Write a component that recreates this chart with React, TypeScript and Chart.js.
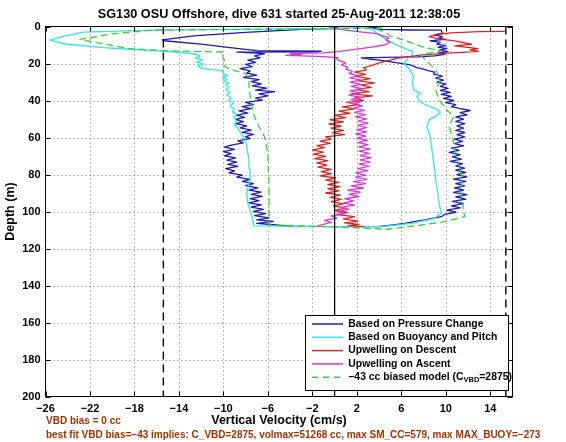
import React, { useEffect, useRef } from 'react';
import { Chart, registerables } from 'chart.js';

Chart.register(...registerables);

const FONT = '"Liberation Sans", Arial, Helvetica, sans-serif';

const titleText = 'SG130 OSU Offshore, dive 631 started 25-Aug-2011 12:38:05';
const xAxisTitle = 'Vertical Velocity (cm/s)';
const yAxisTitle = 'Depth (m)';
const footnotes = [
  'VBD bias = 0 cc',
  'best fit VBD bias=\u221243 implies: C_VBD=2875, volmax=51268 cc, max SM_CC=579, max MAX_BUOY=\u2212273',
];

const xTicks = [-26, -22, -18, -14, -10, -6, -2, 2, 6, 10, 14];
const yTicks = [0, 20, 40, 60, 80, 100, 120, 140, 160, 180, 200];
const xMin = -26;
const xMax = 16;
const yMin = 0;
const yMax = 200;

const seriesLabels = [
  'Based on Pressure Change',
  'Based on Buoyancy and Pitch',
  'Upwelling on Descent',
  'Upwelling on Ascent',
  '\u221243 cc biased model (C_VBD=2875)',
];
const modelLabelParts = ['\u221243 cc biased model (C', 'VBD', '=2875)'];

// reference verticals: dashed limits and zero line
const limitLines = [-15.4, 15.4];
const zeroLine = [0];

// Each profile: [velocity cm/s, depth m] in time order (descent then ascent)
const pressureProfile: [number, number][] = [
  [0.3, 0.3], [-0.3, 1.2], [-3.0, 1.6], [-5.1, 2.2], [-8.0, 3.2], [-12.7, 5.1], [-15.5, 7.2], [-15.3, 7.7],
  [-12.0, 9.5], [-9.4, 11.4], [-7.0, 13.0], [-5.0, 13.2], [-1.2, 13.3], [-1.6, 13.7], [-8.8, 13.8], [-7.5, 14.3],
  [-6.3, 14.7], [-7.2, 15.9], [-6.7, 17.0], [-7.8, 18.2], [-7.1, 19.4], [-8.0, 20.5], [-7.4, 21.7], [-8.5, 22.8],
  [-7.6, 24.0], [-7.9, 25.2], [-7.0, 26.3], [-8.2, 27.5], [-6.8, 28.7], [-7.5, 29.8], [-6.6, 31.0], [-7.4, 32.1],
  [-6.1, 33.3], [-7.1, 34.4], [-5.4, 35.2], [-6.8, 36.4], [-6.0, 37.5], [-7.1, 38.7], [-6.5, 39.8], [-8.0, 41.0],
  [-7.3, 42.1], [-8.3, 43.3], [-7.5, 44.4], [-8.6, 45.6], [-7.8, 46.8], [-8.8, 47.9], [-8.1, 49.1], [-8.9, 50.2],
  [-8.2, 51.4], [-8.9, 52.5], [-7.9, 53.7], [-8.5, 54.8], [-7.5, 56.0], [-8.3, 57.2], [-7.3, 58.3], [-8.0, 59.5],
  [-7.6, 60.6], [-8.7, 61.8], [-8.2, 62.9], [-9.3, 64.1], [-9.9, 65.2], [-9.0, 66.4], [-10.0, 67.6], [-9.3, 68.7],
  [-9.9, 69.9], [-8.9, 71.0], [-9.7, 72.2], [-8.8, 73.3], [-9.6, 74.5], [-8.7, 75.6], [-9.8, 76.8], [-9.0, 78.0],
  [-9.5, 79.1], [-8.3, 80.3], [-8.8, 81.4], [-7.6, 82.6], [-8.3, 83.7], [-7.3, 84.9], [-8.0, 86.0], [-6.9, 87.2],
  [-7.7, 88.4], [-6.6, 89.5], [-7.5, 90.7], [-6.5, 91.8], [-7.6, 93.0], [-6.8, 94.1], [-7.7, 95.3], [-6.6, 96.4],
  [-7.5, 97.6], [-6.4, 98.8], [-7.3, 99.9], [-6.2, 101.1], [-7.2, 102.2], [-5.9, 103.4], [-7.0, 104.5], [-5.5, 105.3],
  [-7.0, 106.4], [-5.2, 107.3], [-4.0, 108.0],
  [3.9, 108.2], [5.3, 107.2], [6.3, 106.4], [7.3, 105.4], [8.1, 104.6], [8.9, 103.6], [9.6, 102.8], [9.9, 101.6],
  [10.9, 100.4], [10.1, 99.2], [11.3, 98.0], [10.5, 96.9], [11.6, 95.7], [10.6, 94.5], [11.8, 93.3], [10.9, 92.1],
  [11.9, 90.9], [10.7, 89.7], [11.6, 88.5], [10.8, 87.3], [11.7, 86.1], [10.9, 84.9], [11.8, 83.7], [10.7, 82.5],
  [11.9, 81.3], [11.0, 80.1], [11.8, 78.9], [10.9, 77.7], [11.7, 76.5], [10.9, 75.3], [11.5, 74.1], [10.4, 72.9],
  [11.4, 71.7], [10.6, 70.5], [11.3, 69.3], [10.3, 68.1], [11.2, 66.9], [10.5, 65.7], [11.6, 64.5], [10.8, 63.3],
  [11.5, 62.1], [10.8, 60.9], [11.7, 59.7], [11.0, 58.5], [11.7, 57.3], [10.9, 56.1], [11.6, 54.9], [11.0, 53.7],
  [11.7, 52.5], [10.9, 51.3], [11.6, 50.1], [10.9, 48.9], [11.9, 47.7], [11.3, 46.5], [12.2, 45.4], [11.3, 44.4],
  [10.5, 43.3], [10.9, 42.2], [10.0, 41.1], [10.7, 40.0], [9.8, 38.9], [10.5, 37.8], [9.6, 36.7], [10.4, 35.6],
  [9.5, 34.5], [10.2, 33.4], [9.5, 32.3], [10.0, 31.2], [9.2, 30.1], [9.8, 29.0], [9.1, 27.9], [9.7, 26.8],
  [8.9, 25.7], [9.0, 24.6], [8.4, 23.8], [8.0, 23.0], [7.4, 22.2], [7.1, 21.4], [6.7, 20.6], [5.8, 19.8],
  [4.9, 19.0], [4.0, 18.2], [3.0, 17.5], [2.4, 17.0], [4.5, 16.7], [7.5, 16.4], [9.0, 15.9], [9.9, 15.1],
  [9.3, 14.4], [10.2, 13.6], [9.4, 12.8], [10.1, 12.0], [9.3, 11.2], [10.0, 10.3], [9.2, 9.5], [9.5, 8.6],
  [8.6, 7.8], [9.9, 6.9], [9.4, 6.2], [9.7, 5.5], [9.0, 4.6], [9.7, 3.9], [9.6, 2.0], [6.7, 1.9],
  [4.2, 1.6], [3.5, 1.0], [3.9, 0.6], [2.5, 0.4],
];

const buoyancyProfile: [number, number][] = [
  [3.0, 0.4], [0.0, 1.0], [-5.0, 1.3], [-12.0, 1.7], [-18.0, 2.2], [-22.6, 3.0], [-24.5, 5.5], [-25.6, 7.3],
  [-24.1, 9.6], [-20.8, 11.4], [-18.4, 12.3], [-15.0, 13.5], [-12.4, 15.0], [-12.1, 15.9], [-12.5, 17.0], [-11.9, 18.0],
  [-12.4, 19.2], [-11.8, 20.3], [-12.3, 21.4], [-12.0, 22.5], [-11.0, 23.3], [-10.1, 23.8], [-10.0, 25.5], [-9.6, 26.5],
  [-10.1, 27.5], [-9.7, 28.5], [-10.0, 29.5], [-9.5, 30.5], [-9.8, 31.5], [-9.5, 33.0], [-9.8, 34.2], [-9.4, 35.8],
  [-9.7, 37.0], [-9.3, 38.5], [-9.5, 40.0], [-9.1, 41.5], [-9.4, 43.0], [-9.0, 44.5], [-9.2, 46.0], [-8.8, 47.5],
  [-9.1, 49.0], [-8.8, 51.0], [-9.0, 53.0], [-8.7, 55.0], [-8.4, 57.8], [-8.0, 61.4], [-7.9, 65.0], [-7.8, 68.6],
  [-7.7, 72.0], [-7.7, 75.8], [-7.6, 78.0], [-7.6, 83.0], [-7.8, 87.0], [-7.9, 90.2], [-7.8, 95.6], [-7.5, 101.0],
  [-7.4, 103.0], [-7.3, 106.4], [-7.3, 107.8], [0.0, 108.2], [4.2, 108.2], [6.9, 106.4], [9.0, 103.7], [9.6, 101.0],
  [9.4, 95.6], [9.3, 90.2], [9.2, 86.6], [9.1, 83.0], [9.0, 77.6], [8.8, 68.6], [8.6, 59.6], [8.3, 54.1],
  [8.5, 50.5], [9.5, 46.9], [9.3, 45.1], [7.9, 41.5], [7.6, 40.0], [7.4, 37.9], [7.7, 36.0], [7.1, 34.3],
  [7.0, 30.7], [7.1, 27.1], [6.8, 23.5], [6.2, 19.9], [6.6, 17.2], [7.0, 15.5], [7.0, 13.5], [6.2, 11.5],
  [5.4, 9.5], [4.8, 7.5], [4.2, 5.2], [3.8, 3.7], [3.5, 2.0], [3.0, 0.8],
];

const descentUpwelling: [number, number][] = [
  [15.3, 2.6], [13.0, 2.8], [10.5, 3.4], [9.2, 4.2], [8.5, 5.5], [9.5, 6.8], [10.8, 7.8], [12.3, 9.6],
  [10.8, 10.5], [12.9, 12.0], [12.2, 12.7], [12.95, 13.5], [10.3, 14.4], [7.9, 15.3], [5.8, 17.0], [4.0, 19.7],
  [3.3, 21.2], [2.6, 22.4], [2.9, 23.5], [1.8, 24.7], [2.8, 25.9], [1.9, 27.0], [3.2, 28.2], [2.1, 29.4],
  [3.6, 30.5], [2.4, 31.7], [3.3, 32.9], [1.9, 34.0], [3.1, 35.2], [1.5, 36.4], [3.4, 37.5], [1.8, 38.7],
  [2.6, 39.9], [1.1, 41.0], [2.2, 42.2], [0.7, 43.4], [1.8, 44.5], [0.4, 45.7], [1.4, 46.9], [0.0, 48.0],
  [1.0, 49.2], [-0.4, 50.4], [0.8, 51.5], [-0.5, 52.7], [0.6, 53.9], [-0.3, 55.0], [0.8, 56.2], [-0.2, 57.4],
  [0.9, 58.5], [-0.8, 59.7], [-0.3, 60.9], [-1.3, 62.0], [-0.4, 63.2], [-1.6, 64.4], [-0.9, 65.5], [-2.0, 66.7],
  [-1.0, 67.9], [-1.9, 69.0], [-0.8, 70.2], [-1.8, 71.4], [-0.6, 72.5], [-1.6, 73.7], [-0.7, 74.9], [-1.5, 76.0],
  [-0.3, 77.2], [-1.2, 78.4], [-0.3, 79.5], [-1.3, 80.7], [0.1, 81.9], [-0.8, 83.0], [0.4, 84.2], [-0.6, 85.4],
  [0.5, 86.5], [-0.6, 87.7], [0.4, 88.9], [-0.8, 90.0], [0.5, 91.2], [-0.4, 92.4], [0.6, 93.5], [-0.3, 94.7],
  [0.8, 95.9], [-0.1, 97.0], [1.0, 98.2], [0.0, 99.4], [1.2, 100.5], [0.2, 101.7], [1.8, 102.8], [0.8, 104.0],
  [2.1, 105.2], [0.9, 106.2], [2.2, 107.0], [1.2, 107.6], [2.7, 108.2],
];

const ascentUpwelling: [number, number][] = [
  [-1.6, 108.0], [-1.0, 107.0], [-0.3, 105.9], [-0.9, 104.8], [0.2, 103.6], [-0.3, 102.4], [0.9, 101.3], [0.2, 100.1],
  [1.3, 98.9], [0.6, 97.8], [1.8, 96.6], [0.8, 95.4], [1.7, 94.3], [0.9, 93.1], [2.2, 91.9], [1.3, 90.8],
  [2.3, 89.6], [1.2, 88.4], [2.6, 87.3], [1.5, 86.1], [2.8, 84.9], [1.7, 83.8], [2.9, 82.6], [1.9, 81.4],
  [2.8, 80.3], [1.9, 79.1], [3.0, 77.9], [2.1, 76.8], [3.1, 75.6], [2.2, 74.4], [3.2, 73.3], [2.3, 72.1],
  [3.3, 70.9], [2.3, 69.8], [3.1, 68.6], [2.2, 67.4], [3.2, 66.3], [2.2, 65.1], [3.0, 63.9], [2.1, 62.8],
  [3.0, 61.6], [2.0, 60.4], [2.8, 59.3], [1.9, 58.1], [2.9, 56.9], [2.0, 55.8], [2.9, 54.6], [2.1, 53.4],
  [3.0, 52.3], [2.1, 51.1], [2.9, 49.9], [1.9, 48.8], [2.8, 47.6], [1.8, 46.4], [2.7, 45.3], [1.7, 44.1],
  [2.5, 42.9], [1.6, 41.8], [2.4, 40.6], [1.5, 39.4], [2.4, 38.3], [1.3, 37.1], [2.3, 35.9], [1.4, 34.8],
  [2.5, 33.6], [1.5, 32.4], [2.4, 31.3], [1.4, 30.1], [2.3, 28.9], [1.4, 27.8], [2.1, 26.6], [1.3, 25.4],
  [1.6, 24.3], [1.0, 23.1], [1.2, 22.0], [0.6, 20.8], [1.0, 19.7], [0.4, 18.5], [0.2, 17.4], [0.3, 16.8],
  [-1.5, 16.2], [-4.4, 15.6], [-3.0, 15.2], [-4.0, 14.6], [-1.0, 14.3], [0.3, 13.6], [1.5, 12.6], [3.0, 11.4],
  [4.5, 10.0], [5.0, 8.6], [4.6, 7.2], [4.9, 6.0], [4.2, 4.8], [3.8, 3.8], [2.5, 3.0], [1.0, 2.0],
  [0.2, 1.2], [-0.5, 0.7],
];

const modelProfile: [number, number][] = [
  [4.3, 0.8], [0.0, 1.3], [-8.0, 1.6], [-16.3, 1.9], [-20.0, 4.0], [-22.9, 7.0], [-21.4, 8.7], [-18.4, 12.0],
  [-14.8, 13.2], [-10.0, 13.8], [-10.1, 15.9], [-9.9, 18.0], [-10.1, 20.0], [-9.8, 22.0], [-9.2, 23.5], [-8.0, 25.3],
  [-7.7, 28.0], [-7.7, 32.5], [-7.5, 41.5], [-7.2, 48.7], [-6.8, 54.1], [-6.3, 59.6], [-6.0, 68.6], [-5.95, 77.6],
  [-5.9, 86.6], [-5.9, 95.6], [-5.9, 102.8], [-5.9, 107.3], [0.0, 108.3], [4.8, 109.6], [7.8, 107.3], [9.9, 105.5],
  [11.7, 102.8], [11.5, 95.6], [11.4, 88.4], [11.5, 81.2], [11.2, 77.6], [10.9, 68.6], [10.6, 59.6], [10.3, 54.1],
  [10.7, 48.7], [10.1, 45.1], [9.4, 39.7], [9.1, 34.3], [9.5, 28.9], [9.1, 23.5], [8.2, 18.1], [7.8, 16.0],
  [8.0, 14.8], [9.6, 13.2], [8.1, 11.4], [6.3, 7.5], [5.0, 5.0], [4.3, 2.5], [3.5, 1.0],
];

const seriesProfiles = [pressureProfile, buoyancyProfile, descentUpwelling, ascentUpwelling, modelProfile];
const seriesColors = ['#1c1cae', '#35e2e6', '#d42828', '#d03cd0', '#3dcc3d'];
const seriesDashes: number[][] = [[], [], [], [], [7, 4]];
const seriesOrder = [5, 4, 3, 2, 1];

const fmtTick = (v: number) => (v < 0 ? '\u2212' + Math.abs(v) : String(v));

const decorPlugin = {
  id: 'decor',
  beforeDatasetsDraw(chart: any) {
    const { ctx, chartArea: a, scales } = chart;
    const xs = scales.x;
    const ys = scales.y;
    ctx.save();
    ctx.strokeStyle = '#6e6e6e';
    ctx.lineWidth = 1;
    ctx.setLineDash([1, 3]);
    for (const v of xTicks) {
      const px = Math.round(xs.getPixelForValue(v)) + 0.5;
      if (px <= a.left + 1 || px >= a.right - 1) continue;
      ctx.beginPath();
      ctx.moveTo(px, a.top);
      ctx.lineTo(px, a.bottom);
      ctx.stroke();
    }
    for (const v of yTicks) {
      const py = Math.round(ys.getPixelForValue(v)) + 0.5;
      if (py <= a.top + 1 || py >= a.bottom - 1) continue;
      ctx.beginPath();
      ctx.moveTo(a.left, py);
      ctx.lineTo(a.right, py);
      ctx.stroke();
    }
    ctx.restore();
  },
  afterDatasetsDraw(chart: any) {
    const { ctx, chartArea: a, scales } = chart;
    const xs = scales.x;
    const ys = scales.y;
    ctx.save();
    ctx.setLineDash([]);
    ctx.strokeStyle = '#000';
    ctx.lineWidth = 1;
    ctx.strokeRect(a.left, a.top, a.right - a.left, a.bottom - a.top);
    const tl = 5;
    ctx.beginPath();
    for (const v of xTicks) {
      const px = Math.round(xs.getPixelForValue(v)) + 0.5;
      ctx.moveTo(px, a.bottom);
      ctx.lineTo(px, a.bottom - tl);
      ctx.moveTo(px, a.top);
      ctx.lineTo(px, a.top + tl);
    }
    for (const v of yTicks) {
      const py = Math.round(ys.getPixelForValue(v)) + 0.5;
      ctx.moveTo(a.left, py);
      ctx.lineTo(a.left + tl, py);
      ctx.moveTo(a.right, py);
      ctx.lineTo(a.right - tl, py);
    }
    ctx.stroke();

    // legend
    const lx = 305.5;
    const ly = 315.5;
    const lw = 203;
    const lh = 75;
    ctx.fillStyle = '#fff';
    ctx.fillRect(lx, ly, lw, lh);
    ctx.strokeStyle = '#000';
    ctx.strokeRect(lx, ly, lw, lh);
    const fontPx = 10.4;
    ctx.textBaseline = 'middle';
    ctx.textAlign = 'left';
    for (let i = 0; i < seriesLabels.length; i++) {
      const ry = 324 + i * 13.3;
      ctx.strokeStyle = seriesColors[i];
      ctx.lineWidth = 1.5;
      ctx.setLineDash(seriesDashes[i].length ? [6, 5] : []);
      ctx.beginPath();
      ctx.moveTo(312, ry);
      ctx.lineTo(343, ry);
      ctx.stroke();
      ctx.setLineDash([]);
      ctx.fillStyle = '#000';
      ctx.font = `bold ${fontPx}px ${FONT}`;
      if (i === seriesLabels.length - 1) {
        let tx = 348.3;
        ctx.fillText(modelLabelParts[0], tx, ry);
        tx += ctx.measureText(modelLabelParts[0]).width;
        ctx.font = `bold ${fontPx * 0.72}px ${FONT}`;
        ctx.fillText(modelLabelParts[1], tx, ry + 3);
        tx += ctx.measureText(modelLabelParts[1]).width;
        ctx.font = `bold ${fontPx}px ${FONT}`;
        ctx.fillText(modelLabelParts[2], tx, ry);
      } else {
        ctx.fillText(seriesLabels[i], 348.3, ry);
      }
    }

    // title
    ctx.fillStyle = '#000';
    ctx.font = `bold 12.7px ${FONT}`;
    ctx.textAlign = 'center';
    ctx.textBaseline = 'middle';
    ctx.fillText(titleText, (a.left + a.right) / 2, 14.5);

    // footnotes
    ctx.fillStyle = '#993300';
    ctx.font = `bold 10px ${FONT}`;
    ctx.textAlign = 'left';
    ctx.fillText(footnotes[0], 46, 421);
    ctx.fillText(footnotes[1], 46, 435);
    ctx.restore();
  },
};

export default function App() {
  const ref = useRef<HTMLCanvasElement>(null);
  useEffect(() => {
    const canvas = ref.current;
    if (!canvas) return;
    const lineDefaults = {
      showLine: true,
      pointRadius: 0,
      pointHoverRadius: 0,
      fill: false,
      tension: 0,
      borderJoinStyle: 'round' as const,
    };
    const dataSets: any[] = seriesProfiles.map((prof, i) => ({
      ...lineDefaults,
      label: seriesLabels[i],
      data: prof.map(([v, d]) => ({ x: v, y: d })),
      borderColor: seriesColors[i],
      borderWidth: 1.3,
      borderDash: seriesDashes[i],
      order: seriesOrder[i],
    }));
    limitLines.forEach((v) => {
      dataSets.push({
        ...lineDefaults,
        label: 'limit',
        data: [{ x: v, y: yMin }, { x: v, y: yMax }],
        borderColor: '#000',
        borderWidth: 1.4,
        borderDash: [8, 5],
        order: 0,
      });
    });
    zeroLine.forEach((v) => {
      dataSets.push({
        ...lineDefaults,
        label: 'zero',
        data: [{ x: v, y: yMin }, { x: v, y: yMax }],
        borderColor: '#000',
        borderWidth: 1,
        order: 0,
      });
    });

    const chart = new Chart(canvas, {
      type: 'scatter',
      data: { datasets: dataSets },
      options: {
        animation: false,
        responsive: false,
        maintainAspectRatio: false,
        devicePixelRatio: 1,
        events: [],
        layout: { padding: { left: 0, top: 26.5, right: 53.5, bottom: 0 } },
        plugins: {
          legend: { display: false },
          tooltip: { enabled: false },
          title: { display: false },
        },
        scales: {
          x: {
            type: 'linear',
            position: 'bottom',
            min: xMin,
            max: xMax,
            grid: { display: false, drawTicks: false },
            border: { display: false },
            afterBuildTicks: (s: any) => {
              s.ticks = xTicks.map((v) => ({ value: v }));
            },
            afterFit: (s: any) => {
              s.height = 45.5;
            },
            ticks: {
              autoSkip: false,
              maxRotation: 0,
              minRotation: 0,
              padding: 6,
              color: '#000',
              font: { family: FONT, size: 11, weight: 'bold' },
              callback: (v: any) => fmtTick(Number(v)),
            },
            title: {
              display: true,
              text: xAxisTitle,
              color: '#000',
              font: { family: FONT, size: 12.5, weight: 'bold' },
              padding: { top: 0, bottom: 13.5 },
            },
          },
          y: {
            type: 'linear',
            position: 'left',
            reverse: true,
            min: yMin,
            max: yMax,
            grid: { display: false, drawTicks: false },
            border: { display: false },
            afterBuildTicks: (s: any) => {
              s.ticks = yTicks.map((v) => ({ value: v }));
            },
            afterFit: (s: any) => {
              s.width = 45.5;
            },
            ticks: {
              autoSkip: false,
              padding: 5,
              color: '#000',
              font: { family: FONT, size: 11, weight: 'bold' },
              callback: (v: any) => fmtTick(Number(v)),
            },
            title: {
              display: true,
              text: yAxisTitle,
              color: '#000',
              font: { family: FONT, size: 12.5, weight: 'bold' },
              padding: { top: 3, bottom: 0 },
            },
          },
        },
      } as any,
      plugins: [decorPlugin],
    });
    return () => chart.destroy();
  }, []);

  return (
    <div style={{ position: 'absolute', left: 0, top: 0, width: 566, height: 442, background: '#fff' }}>
      <canvas ref={ref} width={566} height={442} style={{ display: 'block', width: 566, height: 442 }} />
    </div>
  );
}
